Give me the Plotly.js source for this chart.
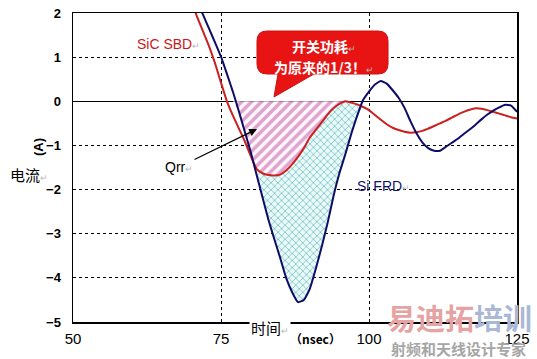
<!DOCTYPE html>
<html>
<head>
<meta charset="utf-8">
<script src="https://cdn.plot.ly/plotly-3.0.1.min.js"></script>
<style>
  html, body { margin: 0; padding: 0; background: #ffffff; }
  #chart { width: 537px; height: 359px; }
</style>
</head>
<body>
<div id="chart"></div>
<script>
// ---- data (time in nsec, current in A) ----
const timeNs = [70,71,72,73,74,75,76,77,78,79,80,81,82,83,84,85,86,87,88,89,90,91,92,93,94,95,96,97,98,99,100,101,102,103,104,105,106,107,108,109,110,111,112,113,114,115,116,117,118,119,120,121,122,123,124,125];
const siFRD = [2.55,2.25,1.95,1.64,1.33,1.01,0.62,0.22,-0.22,-0.68,-1.14,-1.66,-2.17,-2.68,-3.12,-3.55,-4.00,-4.32,-4.55,-4.50,-4.25,-3.80,-3.30,-2.76,-2.15,-1.63,-1.20,-0.74,-0.33,0.03,0.22,0.38,0.46,0.40,0.25,0.08,-0.15,-0.45,-0.72,-0.93,-1.06,-1.12,-1.12,-1.03,-0.94,-0.85,-0.74,-0.64,-0.53,-0.41,-0.30,-0.21,-0.14,-0.08,-0.10,-0.24];
const sicSBD = [2.25,1.90,1.57,1.24,0.86,0.42,0.00,-0.32,-0.61,-0.90,-1.23,-1.53,-1.63,-1.67,-1.68,-1.66,-1.57,-1.43,-1.26,-1.06,-0.82,-0.65,-0.48,-0.30,-0.16,-0.06,0.00,-0.03,-0.07,-0.13,-0.20,-0.31,-0.42,-0.52,-0.60,-0.65,-0.69,-0.71,-0.70,-0.67,-0.62,-0.56,-0.50,-0.44,-0.37,-0.30,-0.24,-0.19,-0.16,-0.17,-0.20,-0.24,-0.28,-0.32,-0.36,-0.39];
const xTickVals = [50,75,100,125];
const xTickText = ['50','75','100','125'];
const yTickVals = [-5,-4,-3,-2,-1,0,1,2];
const yTickText = ['\u22125','\u22124','\u22123','\u22122','\u22121','0','1','2'];
const pinkWindow = [76, 96];   // SiC SBD recovery area
const cyanWindow = [80, 99];   // extra Si FRD recovery area

// ---- derived fill regions ----
const pinkX = [], pinkBase = [], pinkTop = [];
const cyanX = [], cyanUpper = [], cyanLower = [];
timeNs.forEach((t, i) => {
  if (t >= pinkWindow[0] && t <= pinkWindow[1]) {
    pinkX.push(t); pinkBase.push(0);
    pinkTop.push(Math.min(0, Math.max(sicSBD[i], siFRD[i])));
  }
  if (t >= cyanWindow[0] && t <= cyanWindow[1]) {
    cyanX.push(t); cyanUpper.push(sicSBD[i]);
    cyanLower.push(Math.min(siFRD[i], sicSBD[i]));
  }
});

// ---- layout geometry helpers (pixels -> paper) ----
const W = 537, H = 359, ML = 73, MR = 20, MT = 13, MB = 37;
const PW = W - ML - MR, PH = H - MT - MB;
const px = x => (x - ML) / PW;
const py = y => (H - MB - y) / PH;
const P = (x, y) => px(x).toFixed(4) + ',' + py(y).toFixed(4);

const calloutPath = 'M ' + P(267,31) + ' L ' + P(378,31) + ' Q ' + P(388,31) + ' ' + P(388,41) +
  ' L ' + P(388,64) + ' Q ' + P(388,74) + ' ' + P(378,74) + ' L ' + P(314,74) + ' L ' + P(274,97) +
  ' L ' + P(278,74) + ' L ' + P(267,74) + ' Q ' + P(257,74) + ' ' + P(257,64) + ' L ' + P(257,41) +
  ' Q ' + P(257,31) + ' ' + P(267,31) + ' Z';

const noHover = { hoverinfo: 'skip', showlegend: false };
const traces = [
  Object.assign({ x: pinkX, y: pinkBase, mode: 'lines', line: { width: 0, color: 'rgba(0,0,0,0)' } }, noHover),
  Object.assign({ x: pinkX, y: pinkTop, mode: 'lines', fill: 'tonexty', line: { width: 0, color: 'rgba(0,0,0,0)' },
    fillcolor: '#ffffff',
    fillpattern: { shape: '/', fgcolor: '#dfa3cf', bgcolor: '#fef8fc', size: 7, solidity: 0.5 } }, noHover),
  Object.assign({ x: cyanX, y: cyanUpper, mode: 'lines', line: { width: 0, color: 'rgba(0,0,0,0)' } }, noHover),
  Object.assign({ x: cyanX, y: cyanLower, mode: 'lines', fill: 'tonexty', line: { width: 0, color: 'rgba(0,0,0,0)' },
    fillcolor: '#e9fafa',
    fillpattern: { shape: 'x', fgcolor: '#56acae', bgcolor: '#e9fafa', size: 5, solidity: 0.22 } }, noHover),
  Object.assign({ x: timeNs, y: sicSBD, mode: 'lines', name: 'SiC SBD',
    line: { color: '#cc1f1f', width: 2, shape: 'spline', smoothing: 0.45 } }, noHover),
  Object.assign({ x: timeNs, y: siFRD, mode: 'lines', name: 'Si FRD',
    line: { color: '#0d0d66', width: 2, shape: 'spline', smoothing: 0.45 } }, noHover)
];

const cjk = '"Noto Sans CJK SC", "Noto Sans", sans-serif';
const latin = '"Liberation Sans", Arial, sans-serif';
const mark = '<span style="color:#b8b8b8;font-size:9px">\u21b5</span>';

const ann = (text, x, y, opts) => Object.assign({
  text: text, xref: 'paper', yref: 'paper', x: px(x), y: py(y),
  showarrow: false, xanchor: 'center', yanchor: 'middle'
}, opts || {});

const layout = {
  width: W, height: H,
  margin: { l: ML, r: MR, t: MT, b: MB, pad: 0 },
  paper_bgcolor: '#ffffff', plot_bgcolor: '#ffffff',
  showlegend: false,
  xaxis: {
    range: [50, 125], tickvals: xTickVals, ticktext: xTickText,
    showgrid: true, gridcolor: '#000000', gridwidth: 1, griddash: '3px,3px',
    zeroline: false, showline: true, linecolor: '#000000', linewidth: 1.5, mirror: true,
    ticks: '', ticklabelstandoff: 2,
    tickfont: { family: latin, size: 15, color: '#000000' }
  },
  yaxis: {
    range: [-5, 2], tickvals: yTickVals, ticktext: yTickText,
    showgrid: true, gridcolor: '#000000', gridwidth: 1, griddash: '3px,3px',
    zeroline: true, zerolinecolor: '#000000', zerolinewidth: 1.2,
    showline: true, linecolor: '#000000', linewidth: 1.5, mirror: true,
    ticks: '', ticklabelstandoff: 8,
    tickfont: { family: latin, size: 13, color: '#000000', weight: 'bold' }
  },
  shapes: [
    { type: 'path', xref: 'paper', yref: 'paper', path: calloutPath,
      fillcolor: '#e81414', line: { color: '#d01010', width: 1 }, layer: 'above' }
  ],
  annotations: [
    ann('<b>开关功耗</b>' + mark, 324, 46, { font: { family: cjk, size: 14, color: '#ffffff' } }),
    ann('<b>为原来的1/3！</b>' + mark, 324, 67, { font: { family: cjk, size: 14, color: '#ffffff' } }),
    ann('SiC SBD' + mark, 135, 44, { xanchor: 'left', font: { family: latin, size: 14, color: '#c81818' } }),
    ann('Si FRD' + mark, 355, 186, { xanchor: 'left', font: { family: latin, size: 14, color: '#10106e' } }),
    { text: 'Qrr' + mark, xref: 'paper', yref: 'paper', x: px(257), y: py(129),
      showarrow: true, axref: 'pixel', ayref: 'pixel', ax: -78, ay: 38,
      arrowhead: 2, arrowsize: 1.3, arrowwidth: 1.2, arrowcolor: '#000000', standoff: 0,
      font: { family: latin, size: 14, color: '#000000' } },
    ann('电流' + mark, 29, 174, { font: { family: cjk, size: 15, color: '#000000' } }),
    ann('<b>(A)</b>', 38, 147, { textangle: -90, font: { family: latin, size: 13, color: '#000000' } }),
    ann('时间' + mark, 270, 327, { bgcolor: '#ffffff', font: { family: cjk, size: 15, color: '#000000' } }),
    ann('<b>（nsec）</b>', 315, 338, { font: { family: cjk, size: 12, color: '#000000' } }),
    ann('<b><span style="color:#e5a3a3">易迪拓</span><span style="color:#aab8d6">培训</span></b>', 459, 317,
      { font: { family: cjk, size: 29, color: '#e5a3a3' } }),
    ann('<b>射频和天线设计专家</b>', 458, 348, { font: { family: cjk, size: 15, color: '#a6a6a6' } })
  ]
};

Plotly.newPlot('chart', traces, layout, { staticPlot: true, displayModeBar: false });
</script>
</body>
</html>
